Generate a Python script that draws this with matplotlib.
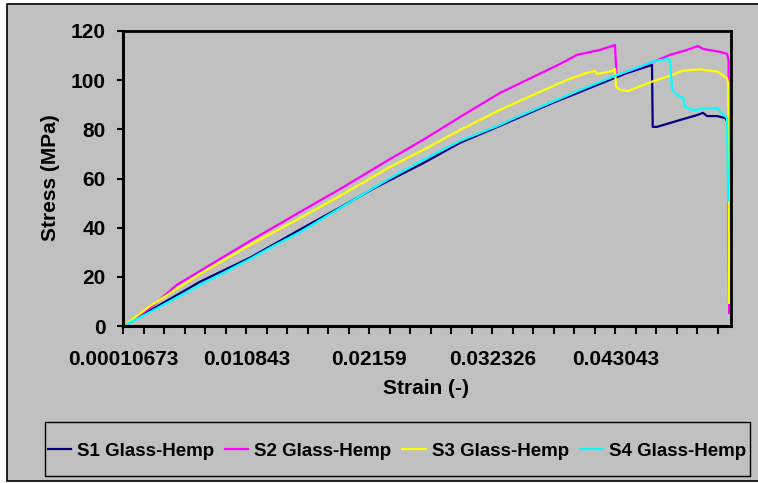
import matplotlib
matplotlib.use("Agg")
import matplotlib.pyplot as plt
from matplotlib.patches import Rectangle

plt.rcParams["font.family"] = ["Liberation Sans", "DejaVu Sans"]
plt.rcParams["font.weight"] = "bold"

# ── Data ──────────────────────────────────────────────────────────────────────
x_tick_labels = ["0.00010673", "0.010843", "0.02159", "0.032326", "0.043043"]
y_ticks = [0, 20, 40, 60, 80, 100, 120]

s1_strain = [0.000107, 0.00244, 0.00680, 0.01117, 0.01640, 0.01902, 0.02190, 0.02626,
             0.02949, 0.03298, 0.03735, 0.03997, 0.04171, 0.04407, 0.04625, 0.04631,
             0.04669, 0.04870, 0.05018, 0.05070, 0.05105, 0.05193, 0.05263, 0.05289, 0.05298]
s1_stress = [0, 6.3, 18.0, 27.8, 41.5, 48.2, 55.8, 66.2,
             74.5, 81.4, 90.3, 95.2, 98.5, 102.9, 106.2, 81.0,
             81.0, 83.8, 85.8, 86.7, 85.4, 85.4, 84.6, 82.6, 9.4]

s2_strain = [0.000107, 0.00244, 0.00477, 0.00680, 0.01117, 0.01553, 0.01902, 0.02338,
             0.02626, 0.02949, 0.03298, 0.03587, 0.03822, 0.03971, 0.04171, 0.04302,
             0.04315, 0.04477, 0.04634, 0.04782, 0.04931, 0.05027, 0.05070, 0.05219,
             0.05280, 0.05293, 0.05298]
s2_stress = [0, 7.3, 16.7, 22.4, 34.6, 46.4, 55.7, 67.9,
             75.7, 85.0, 94.8, 101.3, 106.6, 110.3, 112.3, 114.3,
             101.9, 104.6, 107.4, 110.3, 112.3, 113.9, 112.7, 111.5,
             110.7, 108.2, 5.3]

s3_strain = [0.000107, 0.00244, 0.00680, 0.01117, 0.01553, 0.01902, 0.02338, 0.02626,
             0.02949, 0.03298, 0.03587, 0.03883, 0.04058, 0.04128, 0.04145, 0.04276,
             0.04302, 0.04311, 0.04346, 0.04416, 0.04625, 0.04800, 0.04896, 0.05044,
             0.05193, 0.05280, 0.05289, 0.05298]
s3_stress = [0, 8.1, 21.2, 33.0, 43.9, 52.9, 64.7, 71.6,
             79.7, 87.9, 94.0, 100.1, 103.0, 103.7, 102.5, 103.7,
             104.6, 97.4, 96.0, 95.6, 99.4, 102.1, 103.9, 104.4,
             103.5, 100.8, 98.7, 9.4]

s4_strain = [0.000107, 0.00244, 0.00680, 0.01117, 0.01317, 0.01553, 0.01902, 0.02312,
             0.02626, 0.02949, 0.03298, 0.03386, 0.03997, 0.04320, 0.04652, 0.04765,
             0.04782, 0.04800, 0.04843, 0.04896, 0.04913, 0.04974, 0.05193, 0.05219,
             0.05280, 0.05289]
s4_stress = [0, 5.7, 16.7, 27.3, 32.5, 38.2, 48.0, 59.4,
             67.5, 75.3, 81.8, 83.8, 96.0, 102.1, 107.8, 108.6,
             108.2, 96.0, 94.0, 92.8, 89.1, 87.9, 88.7, 87.1,
             84.6, 51.3]

series = [
    ("S1 Glass-Hemp", s1_strain, s1_stress, "#000080"),
    ("S2 Glass-Hemp", s2_strain, s2_stress, "#FF00FF"),
    ("S3 Glass-Hemp", s3_strain, s3_stress, "#FFFF00"),
    ("S4 Glass-Hemp", s4_strain, s4_stress, "#00FFFF"),
]

GRAY = "#C0C0C0"
W, H = 758, 483

fig = plt.figure(figsize=(W / 100, H / 100), dpi=100)
fig.patch.set_facecolor("white")

# chart area (grey with black frame) - kept behind the axes
fig.add_artist(Rectangle((7 / W, 2 / H), 1.0, 1 - 6 / H, transform=fig.transFigure,
                         facecolor=GRAY, edgecolor="black", linewidth=1.2, zorder=-10))

ax = fig.add_axes([123.3 / W, (H - 326) / H, 607.2 / W, 295 / H])
ax.set_facecolor(GRAY)

lines = []
for name, xs, ys, col in series:
    ln, = ax.plot(xs, ys, color=col, linewidth=1.6, label=name)
    lines.append(ln)

# x axis: Excel-style category ticks, label every 6th tick
x_vals = [float(s) for s in x_tick_labels]
step = (x_vals[-1] - x_vals[0]) / 24
ticks = [x_vals[0] + k * step for k in range(30)]
ax.set_xticks(ticks)
ax.set_xticklabels([x_tick_labels[k // 6] if k % 6 == 0 and k // 6 < len(x_tick_labels) else ""
                    for k in range(30)])
ax.set_xlim(x_vals[0], 0.0531)

ax.set_yticks(y_ticks)
ax.set_ylim(0, 120)

ax.tick_params(axis="x", direction="out", length=6, width=1.5, pad=11, labelsize=15)
ax.tick_params(axis="y", direction="out", length=4.5, width=1.5, pad=8, labelsize=15)

for side, spine in ax.spines.items():
    spine.set_color("black")
    spine.set_linewidth(2.2 if side in ("left", "bottom") else 2.0)

fig.text(51 / W, 1 - 178 / H, "Stress (MPa)", rotation=90, ha="center", va="center",
         fontsize=15, fontweight="bold")
fig.text(426 / W, 1 - 388 / H, "Strain (-)", ha="center", va="center",
         fontsize=15, fontweight="bold")

# legend box
fig.add_artist(Rectangle((45 / W, 1 - 476 / H), 705 / W, 54 / H, transform=fig.transFigure,
                         facecolor="none", edgecolor="black", linewidth=1.0))
ax.legend(handles=lines, ncol=4, loc="center", bbox_to_anchor=(397 / W, 1 - 451 / H),
          bbox_transform=fig.transFigure, frameon=False, fontsize=13.5,
          handlelength=1.23, handletextpad=0.32, columnspacing=0.58)

fig.savefig("out.png", dpi=100, facecolor=fig.get_facecolor())
